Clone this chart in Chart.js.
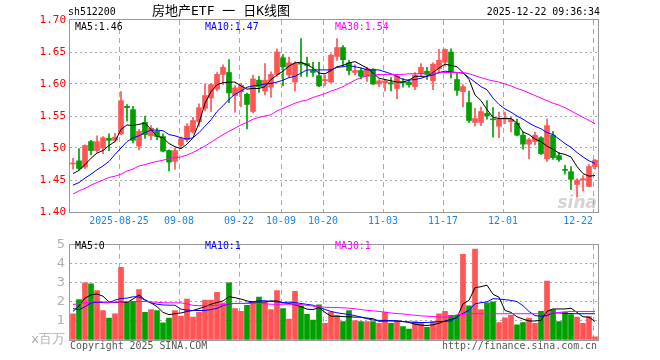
<!DOCTYPE html>
<html>
<head>
<meta charset="utf-8">
<script src="https://cdn.jsdelivr.net/npm/chart.js@4.4.1/dist/chart.umd.min.js"></script>
<style>
    body { margin: 0; background: #fff; }
    #wrap { position: relative; width: 660px; height: 360px; }
    #k { position: absolute; left: 0; top: 0; }
    #v { position: absolute; left: 0; top: 232px; }
</style>
</head>
<body>
<div id="wrap">
    <canvas id="k" width="660" height="232"></canvas>
    <canvas id="v" width="660" height="128"></canvas>
</div>
<script>
// giorni di contrattazione
var dates = [
    '2025-08-13','2025-08-14','2025-08-15','2025-08-18','2025-08-19','2025-08-20','2025-08-21','2025-08-22',
    '2025-08-25','2025-08-26','2025-08-27','2025-08-28','2025-08-29',
    '2025-09-01','2025-09-02','2025-09-03','2025-09-04','2025-09-05',
    '2025-09-08','2025-09-09','2025-09-10','2025-09-11','2025-09-12',
    '2025-09-15','2025-09-16','2025-09-17','2025-09-18','2025-09-19',
    '2025-09-22','2025-09-23','2025-09-24','2025-09-25','2025-09-26','2025-09-29','2025-09-30',
    '2025-10-09','2025-10-10','2025-10-13','2025-10-14','2025-10-15','2025-10-16','2025-10-17',
    '2025-10-20','2025-10-21','2025-10-22','2025-10-23','2025-10-24',
    '2025-10-27','2025-10-28','2025-10-29','2025-10-30','2025-10-31',
    '2025-11-03','2025-11-04','2025-11-05','2025-11-06','2025-11-07',
    '2025-11-10','2025-11-11','2025-11-12','2025-11-13','2025-11-14',
    '2025-11-17','2025-11-18','2025-11-19','2025-11-20','2025-11-21',
    '2025-11-24','2025-11-25','2025-11-26','2025-11-27','2025-11-28',
    '2025-12-01','2025-12-02','2025-12-03','2025-12-04','2025-12-05',
    '2025-12-08','2025-12-09','2025-12-10','2025-12-11','2025-12-12',
    '2025-12-15','2025-12-16','2025-12-17','2025-12-18','2025-12-19',
    '2025-12-22'
];

var open = [1.475,1.480,1.470,1.510,1.496,1.500,1.515,1.512,1.522,1.565,1.560,1.503,1.540,1.519,1.526,1.518,1.496,1.479,
    1.504,1.513,1.525,1.541,1.562,1.578,1.592,1.615,1.618,1.582,1.588,1.584,1.557,1.606,1.589,1.595,1.615,
    1.641,1.614,1.603,1.633,1.632,1.621,1.613,1.605,1.603,1.643,1.657,1.633,1.618,1.621,1.612,1.623,1.600,
    1.602,1.602,1.593,1.603,1.603,1.596,1.616,1.620,1.605,1.624,1.634,1.650,1.607,1.588,1.571,1.540,1.540,1.554,1.545,1.534,
    1.545,1.541,1.539,1.520,1.506,1.510,1.516,1.483,1.520,1.488,1.466,1.463,1.443,1.450,1.440,1.471];
var high = [1.484,1.499,1.505,1.512,1.519,1.518,1.522,1.523,1.588,1.568,1.565,1.529,1.550,1.535,1.531,1.522,1.497,1.500,
    1.517,1.538,1.548,1.569,1.600,1.601,1.618,1.630,1.638,1.597,1.601,1.586,1.614,1.612,1.632,1.619,1.655,
    1.646,1.642,1.635,1.671,1.642,1.634,1.634,1.614,1.647,1.671,1.660,1.637,1.630,1.625,1.626,1.624,1.607,
    1.607,1.610,1.614,1.609,1.607,1.618,1.632,1.626,1.633,1.654,1.655,1.655,1.617,1.599,1.589,1.562,1.564,1.574,1.563,1.556,
    1.556,1.548,1.545,1.525,1.515,1.525,1.518,1.545,1.526,1.493,1.473,1.471,1.452,1.457,1.474,1.482];
var low = [1.467,1.466,1.468,1.489,1.493,1.491,1.496,1.510,1.521,1.542,1.508,1.497,1.515,1.513,1.513,1.494,1.464,1.467,
    1.500,1.510,1.523,1.534,1.558,1.557,1.589,1.599,1.571,1.556,1.564,1.530,1.555,1.587,1.583,1.579,1.612,
    1.597,1.611,1.589,1.612,1.612,1.612,1.596,1.597,1.602,1.637,1.629,1.614,1.614,1.608,1.604,1.599,1.596,
    1.589,1.589,1.577,1.595,1.595,1.591,1.612,1.607,1.591,1.618,1.628,1.609,1.582,1.564,1.540,1.534,1.535,1.545,1.517,1.516,
    1.538,1.525,1.519,1.498,1.483,1.505,1.490,1.479,1.482,1.479,1.459,1.435,1.423,1.433,1.439,1.467];
var close = [1.476,1.468,1.504,1.496,1.510,1.516,1.512,1.517,1.574,1.563,1.512,1.526,1.521,1.531,1.518,1.495,1.478,1.496,
    1.514,1.534,1.543,1.563,1.582,1.599,1.615,1.626,1.586,1.594,1.598,1.568,1.608,1.596,1.606,1.615,1.650,
    1.627,1.633,1.632,1.631,1.629,1.618,1.597,1.607,1.645,1.657,1.638,1.621,1.621,1.612,1.624,1.600,1.605,
    1.605,1.600,1.612,1.602,1.599,1.614,1.626,1.615,1.631,1.637,1.654,1.620,1.590,1.596,1.543,1.546,1.557,1.550,1.544,1.545,
    1.547,1.545,1.520,1.506,1.513,1.520,1.491,1.535,1.485,1.482,1.465,1.451,1.450,1.452,1.471,1.481];

var ma5 = [1.460,1.465,1.474,1.484,1.492,1.496,1.504,1.510,1.529,1.536,1.535,1.537,1.539,1.529,1.518,1.516,1.507,1.502,1.499,1.506,
    1.516,1.539,1.570,1.588,1.599,1.602,1.603,1.603,1.597,1.592,1.593,1.593,1.596,1.607,1.614,1.620,1.628,1.633,1.634,1.630,
    1.625,1.617,1.616,1.621,1.627,1.629,1.633,1.635,1.630,1.625,1.617,1.609,1.607,1.605,1.603,1.603,1.606,1.612,1.612,1.612,
    1.618,1.625,1.631,1.629,1.627,1.618,1.607,1.583,1.574,1.560,1.548,1.546,1.546,1.546,1.539,1.525,1.521,1.514,1.510,1.503,
    1.498,1.492,1.490,1.486,1.471,1.460,1.456,1.457];
var ma10 = [1.442,1.446,1.453,1.459,1.466,1.472,1.479,1.490,1.500,1.510,1.516,1.519,1.524,1.528,1.528,1.527,1.521,1.519,1.516,1.514,
    1.516,1.524,1.534,1.544,1.557,1.566,1.576,1.584,1.589,1.595,1.597,1.598,1.600,1.601,1.603,1.606,1.610,1.612,1.617,1.622,
    1.622,1.622,1.622,1.622,1.626,1.627,1.629,1.627,1.625,1.622,1.622,1.622,1.619,1.616,1.612,1.607,1.606,1.607,1.609,1.612,
    1.614,1.618,1.620,1.619,1.618,1.617,1.610,1.603,1.596,1.591,1.578,1.568,1.561,1.556,1.550,1.545,1.539,1.534,1.530,1.524,
    1.521,1.514,1.507,1.501,1.493,1.486,1.480,1.476];
var ma30 = [1.428,1.433,1.437,1.442,1.446,1.450,1.454,1.456,1.459,1.464,1.467,1.472,1.474,1.477,1.479,1.481,1.483,1.485,1.486,1.489,
    1.493,1.498,1.503,1.509,1.515,1.521,1.526,1.531,1.536,1.540,1.545,1.548,1.550,1.552,1.558,1.562,1.566,1.570,1.573,1.575,
    1.579,1.582,1.585,1.589,1.592,1.596,1.601,1.606,1.610,1.613,1.614,1.615,1.615,1.615,1.615,1.615,1.616,1.616,1.616,1.616,
    1.617,1.617,1.618,1.618,1.618,1.618,1.616,1.613,1.610,1.607,1.605,1.603,1.600,1.597,1.593,1.590,1.586,1.582,1.578,1.574,
    1.570,1.567,1.563,1.558,1.553,1.548,1.543,1.538];

// volumi in milioni
var volume = [1.37,2.12,3.00,2.95,2.60,1.55,1.15,1.37,3.82,1.98,2.03,2.65,1.45,1.60,1.55,0.90,1.15,1.55,1.25,2.15,
    1.20,1.45,2.10,2.10,2.50,1.95,3.00,1.65,1.50,1.82,2.03,2.25,1.98,1.60,2.60,1.65,1.10,2.55,1.80,1.35,
    1.05,1.85,0.87,1.47,1.28,0.97,1.55,1.02,0.97,0.97,0.97,0.87,1.47,0.87,1.00,0.70,0.57,0.97,0.87,0.67,
    0.97,1.37,1.50,1.30,1.30,4.50,1.80,4.77,1.60,1.95,2.00,0.92,1.17,1.30,0.80,0.92,1.15,0.87,1.50,3.10,
    1.60,0.97,1.45,1.33,1.20,0.87,1.23,0.17];
var volMa5 = [1.50,1.80,2.20,2.37,2.42,2.30,2.00,1.97,2.00,1.97,2.15,2.37,2.10,1.95,1.75,1.45,1.33,1.38,1.42,1.50,
    1.55,1.65,1.75,1.88,1.97,2.05,2.28,2.22,2.15,2.05,2.00,2.00,2.00,2.05,2.05,1.95,1.92,1.85,1.75,1.62,
    1.60,1.70,1.45,1.25,1.25,1.23,1.22,1.20,1.20,1.15,1.12,0.98,1.00,1.00,1.00,0.97,0.92,0.83,0.78,0.76,
    0.80,0.88,1.00,1.08,1.17,1.90,2.08,2.75,2.80,2.88,2.40,2.25,1.55,1.45,1.22,1.10,1.00,1.00,1.03,1.50,
    1.63,1.63,1.63,1.67,1.45,1.22,1.20,0.97];
var volMa10 = [1.65,1.58,1.75,1.95,1.98,1.96,1.95,2.10,2.18,2.20,2.27,2.26,2.10,1.95,1.88,1.84,1.83,1.83,1.62,1.57,
    1.55,1.55,1.55,1.60,1.66,1.80,1.90,1.92,1.92,1.93,2.00,2.07,2.06,2.03,2.00,1.97,1.99,1.96,1.92,1.87,
    1.83,1.72,1.60,1.50,1.43,1.38,1.34,1.28,1.20,1.12,1.05,1.03,1.03,1.02,1.00,0.97,0.95,0.92,0.92,0.92,
    0.94,0.97,0.98,1.00,1.22,1.40,1.56,1.90,1.96,2.00,2.17,2.15,2.12,2.08,2.02,1.80,1.50,1.28,1.25,1.28,
    1.42,1.42,1.40,1.39,1.38,1.38,1.38,1.38];
var volMa30 = [1.87,1.90,1.95,2.00,2.02,2.00,1.98,1.99,2.00,2.01,2.02,2.03,2.02,2.00,1.98,1.96,1.95,1.95,1.95,1.90,
    1.82,1.80,1.80,1.80,1.82,1.86,1.90,1.92,1.92,1.92,1.92,1.92,1.90,1.88,1.87,1.88,1.88,1.88,1.86,1.82,
    1.78,1.74,1.72,1.71,1.70,1.69,1.67,1.64,1.60,1.56,1.53,1.50,1.46,1.42,1.39,1.37,1.33,1.30,1.27,1.25,
    1.23,1.21,1.20,1.25,1.32,1.35,1.37,1.38,1.38,1.38,1.38,1.38,1.38,1.38,1.38,1.38,1.38,1.38,1.38,1.39,
    1.42,1.45,1.48,1.50,1.50,1.50,1.50,1.50];

var tickDates = ['2025-08-25','2025-09-08','2025-09-22','2025-10-09','2025-10-20','2025-11-03','2025-11-17','2025-12-01','2025-12-22'];
var tickTexts = ['2025-08-25','09-08','09-22','10-09','10-20','11-03','11-17','12-01','12-22'];

var RED = '#ff5555';
var GREEN = '#00a000';
var MONO = '11px "DejaVu Sans Mono", monospace';

var bodies = [], wicks = [], colors = [];
for (var i = 0; i < dates.length; i++) {
    bodies.push([open[i], close[i]]);
    wicks.push([low[i], high[i]]);
    colors.push(close[i] >= open[i] ? RED : GREEN);
}

function putText(ctx, s, x, y, color, align, font) {
    ctx.save();
    ctx.font = font || MONO;
    ctx.fillStyle = color;
    ctx.textBaseline = 'middle';
    ctx.textAlign = align || 'left';
    ctx.translate(x, y);
    if (!font) ctx.scale(0.9, 1);
    ctx.fillText(s, 0, 0);
    ctx.restore();
}

function drawDateGrid(chart) {
    var ctx = chart.ctx, a = chart.chartArea, x = chart.scales.x;
    ctx.save();
    ctx.strokeStyle = '#aaa';
    ctx.lineWidth = 1;
    ctx.setLineDash([5, 4]);
    tickDates.forEach(function (d) {
        var px = Math.round(x.getPixelForValue(dates.indexOf(d))) - 2 + 0.5;
        ctx.beginPath();
        ctx.moveTo(px, a.top);
        ctx.lineTo(px, a.bottom);
        ctx.stroke();
    });
    ctx.restore();
}

function drawFrame(chart) {
    var ctx = chart.ctx, a = chart.chartArea;
    ctx.save();
    ctx.strokeStyle = '#999';
    ctx.lineWidth = 1;
    ctx.strokeRect(Math.round(a.left) - 0.5, Math.round(a.top) - 0.5, Math.round(a.right - a.left) + 1, Math.round(a.bottom - a.top) + 1);
    ctx.restore();
}

var kPlugin = {
    id: 'kDecor',
    beforeDatasetsDraw: function (chart) {
        drawDateGrid(chart);
    },
    afterDraw: function (chart) {
        var ctx = chart.ctx, x = chart.scales.x;
        drawFrame(chart);

        // titolo
        putText(ctx, 'sh512200', 68, 12, '#000');
        putText(ctx, '房地产ETF 一 日K线图', 152, 12, '#000', 'left', '13px "DejaVu Sans Mono", "Noto Sans CJK SC", sans-serif');
        putText(ctx, '2025-12-22 09:36:34', 600, 12, '#000', 'right');

        // legenda
        putText(ctx, 'MA5:1.46', 75, 27, '#000');
        putText(ctx, 'MA10:1.47', 205, 27, '#0000ff');
        putText(ctx, 'MA30:1.54', 335, 27, '#ff00ff');

        // date
        tickDates.forEach(function (d, k) {
            var px = Math.round(x.getPixelForValue(dates.indexOf(d))) - 2;
            var last = k == tickDates.length - 1;
            putText(ctx, tickTexts[k], last ? px : px, 221, '#1a86e8', last ? 'right' : 'center');
        });

        // watermark
        ctx.save();
        ctx.font = 'italic bold 17px "DejaVu Sans", sans-serif';
        ctx.fillStyle = 'rgba(160,160,160,0.45)';
        ctx.textAlign = 'right';
        ctx.fillText('sina', 597, 208);
        ctx.strokeStyle = 'rgba(255,120,120,0.35)';
        ctx.beginPath();
        ctx.arc(579, 191, 5, 0, Math.PI * 2);
        ctx.stroke();
        ctx.restore();
    }
};

var vPlugin = {
    id: 'vDecor',
    beforeDatasetsDraw: function (chart) {
        drawDateGrid(chart);
    },
    afterDraw: function (chart) {
        var ctx = chart.ctx;
        drawFrame(chart);
        putText(ctx, 'MA5:0', 75, 14, '#000');
        putText(ctx, 'MA10:1', 205, 14, '#0000ff');
        putText(ctx, 'MA30:1', 335, 14, '#ff00ff');
        putText(ctx, 'Copyright 2025 SINA.COM', 70, 114, '#555');
        putText(ctx, 'http://finance.sina.com.cn', 597, 114, '#555', 'right');
    }
};

function xScale() {
    return {
        offset: true,
        grid: { display: false, drawTicks: false },
        ticks: { display: false },
        border: { display: false },
        afterFit: function (s) { s.height = 0; }
    };
}

function lineSet(data, color) {
    return {
        type: 'line',
        data: data,
        borderColor: color,
        borderWidth: 1,
        pointRadius: 0,
        tension: 0,
        order: 0
    };
}

new Chart(document.getElementById('k'), {
    data: {
        labels: dates,
        datasets: [
            { type: 'bar', data: wicks, backgroundColor: colors, barThickness: 1, grouped: false, minBarLength: 1, order: 3 },
            { type: 'bar', data: bodies, backgroundColor: colors, barThickness: 5, grouped: false, minBarLength: 1, order: 2 },
            lineSet(ma30, '#ff00ff'),
            lineSet(ma10, '#0000ff'),
            lineSet(ma5, '#000000')
        ]
    },
    options: {
        responsive: false,
        animation: false,
        layout: { padding: { top: 20, right: 62, bottom: 20, left: 0 } },
        plugins: { legend: { display: false }, tooltip: { enabled: false } },
        scales: {
            x: xScale(),
            y: {
                min: 1.40,
                max: 1.70,
                afterFit: function (s) { s.width = 70; },
                ticks: {
                    stepSize: 0.05,
                    color: '#ff0000',
                    padding: 4,
                    font: { family: 'DejaVu Sans Mono', size: 11 },
                    callback: function (v) { return v.toFixed(2); }
                },
                grid: {
                    drawTicks: false,
                    color: function (c) {
                        return (c.index === 0 || c.index === 6) ? 'rgba(0,0,0,0)' : '#aaa';
                    }
                },
                border: { display: false, dash: [2, 3] }
            }
        }
    },
    plugins: [kPlugin]
});

new Chart(document.getElementById('v'), {
    data: {
        labels: dates,
        datasets: [
            { type: 'bar', data: volume, backgroundColor: colors, barThickness: 5, order: 2 },
            lineSet(volMa30, '#ff00ff'),
            lineSet(volMa10, '#0000ff'),
            lineSet(volMa5, '#000000')
        ]
    },
    options: {
        responsive: false,
        animation: false,
        layout: { padding: { top: 9, right: 62, bottom: 20, left: 0 } },
        plugins: { legend: { display: false }, tooltip: { enabled: false } },
        scales: {
            x: xScale(),
            y: {
                min: 0,
                max: 5,
                afterFit: function (s) { s.width = 70; },
                ticks: {
                    stepSize: 1,
                    color: '#b0b0b0',
                    padding: 5,
                    font: { family: 'DejaVu Sans', size: 13 },
                    callback: function (v) { return v === 0 ? 'x百万' : v; }
                },
                grid: {
                    drawTicks: false,
                    color: function (c) {
                        return (c.index === 0 || c.index === 5) ? 'rgba(0,0,0,0)' : '#aaa';
                    }
                },
                border: { display: false, dash: [2, 3] }
            }
        }
    },
    plugins: [vPlugin]
});
</script>
</body>
</html>
